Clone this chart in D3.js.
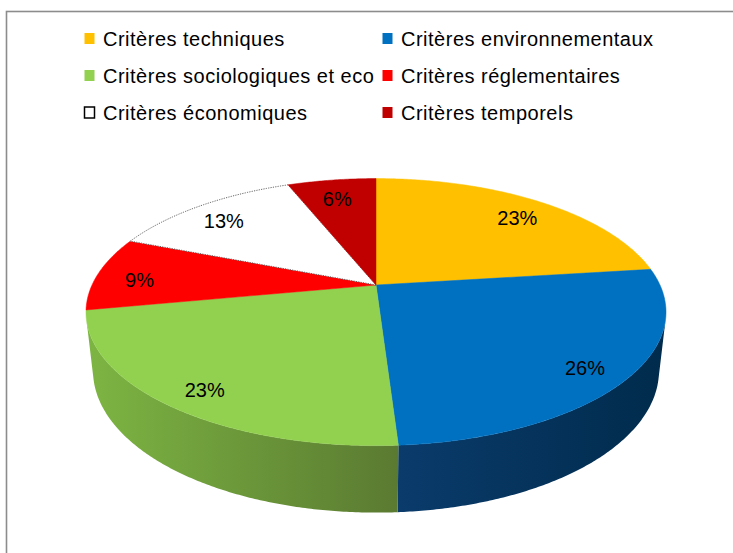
<!DOCTYPE html>
<html><head><meta charset="utf-8">
<script src="https://cdn.jsdelivr.net/npm/d3@7"></script>
<style>
html,body{margin:0;padding:0;background:#fff;}
svg{display:block;font-family:"Liberation Sans",Arial,sans-serif;}
</style></head>
<body>
<svg id="chart" width="733" height="553"></svg>
<script>
// ---- data ----
const categories = ["Critères techniques","Critères environnementaux","Critères sociologiques et eco","Critères réglementaires","Critères économiques","Critères temporels"];
const values = [23, 26, 23, 9, 13, 6];
const labels = ["23%","26%","23%","9%","13%","6%"];
// ---- styles ----
const topColors = ["#ffc000","#0070c0","#92d050","#ff0000","#ffffff","#c00000"];
const sideColors = [["#d9a300","#b38600"],["#0a3b6b","#002b4c"],["#7db543","#5a7a31"],["#d90000","#b00000"],["#e0e0e0","#c0c0c0"],["#a30000","#850000"]];

const svg = d3.select("#chart");
const W = 733, H = 553;

// chart area border
svg.append("rect").attr("x",6.5).attr("y",11.5).attr("width",W).attr("height",H)
  .attr("fill","#fff").attr("stroke","#8c8c8c").attr("stroke-width",1.6);

// ---- 3D perspective projection ----
const cx = 376, cy = 285;
const alpha = 26.8*Math.PI/180, sa = Math.sin(alpha), ca = Math.cos(alpha);
const Dist = 4.40, focal = 1249.5, depthH = 0.232;
function proj(theta, r, z){
  const X = r*Math.sin(theta), Y = r*Math.cos(theta);
  const depth = Y*ca + Dist - z*sa;
  const v = Y*sa + z*ca;
  return [cx + focal*X/depth, cy - focal*v/depth];
}
const pie = d3.pie().sort(null).value(d=>d).startAngle(0).endAngle(2*Math.PI);
const arcs = pie(values);
const line = d3.line();
function arcPts(a0,a1,r,z){
  const n = Math.max(2, Math.ceil((a1-a0)/(Math.PI/360)));
  return d3.range(n+1).map(i=>proj(a0+(a1-a0)*i/n, r, z));
}

const defs = svg.append("defs");
// visible side range
const tMin = Math.acos(-1/(Dist*ca)), tMax = 2*Math.PI - tMin;
const gSide = svg.append("g");
arcs.forEach((a,i)=>{
  const s0 = Math.max(a.startAngle,tMin), s1 = Math.min(a.endAngle,tMax);
  if (s0>=s1) return;
  const top = arcPts(s0,s1,1,0), bot = arcPts(s0,s1,1,-depthH).reverse();
  const xs = top.map(p=>p[0]);
  const gid = "side"+i;
  const lg = defs.append("linearGradient").attr("id",gid).attr("gradientUnits","userSpaceOnUse")
    .attr("x1",d3.min(xs)).attr("x2",d3.max(xs)).attr("y1",0).attr("y2",0);
  const pLeft = proj(s1,1,0)[0] < proj(s0,1,0)[0];
  lg.append("stop").attr("offset",0).attr("stop-color", pLeft ? sideColors[i][0] : sideColors[i][0]);
  lg.append("stop").attr("offset",1).attr("stop-color", sideColors[i][1]);
  gSide.append("path").attr("d", line(top.concat(bot))+"Z").attr("fill","url(#"+gid+")");
});

// top face
const gTop = svg.append("g");
arcs.forEach((a,i)=>{
  const pts = [proj(0,0,0)].concat(arcPts(a.startAngle,a.endAngle,1,0));
  const p = gTop.append("path").attr("d", line(pts)+"Z").attr("fill",topColors[i]);
  if (topColors[i]==="#ffffff") p.attr("stroke","#555").attr("stroke-width",0.9).attr("stroke-dasharray","1.2,1.2");
  else p.attr("stroke",topColors[i]).attr("stroke-width",0.5);
});

// labels
const labelR = 0.85;
svg.append("g").selectAll("text").data(arcs).join("text")
  .attr("x", d=>proj((d.startAngle+d.endAngle)/2,labelR,0)[0])
  .attr("y", d=>proj((d.startAngle+d.endAngle)/2,labelR,0)[1]+5)
  .attr("text-anchor","middle").attr("dominant-baseline","central")
  .attr("font-size",20).attr("fill","#000")
  .text((d,i)=>labels[i]);

// legend
const colX = d3.scalePoint().domain([0,1]).range([84,382]);
const rowY = d3.scalePoint().domain([0,1,2]).range([38.5,112.5]);
const lg = svg.append("g").selectAll("g").data(categories).join("g")
  .attr("transform",(d,i)=>`translate(${colX(i%2)},${rowY(Math.floor(i/2))})`);
lg.append("rect").attr("x",0.5).attr("y",-5.5).attr("width",10).attr("height",11)
  .attr("fill",(d,i)=>topColors[i])
  .attr("stroke",(d,i)=>topColors[i]==="#ffffff"?"#000":"none").attr("stroke-width",1.5);
lg.append("text").attr("x",19).attr("y",7.5).attr("font-size",20).attr("letter-spacing",0.5)
  .attr("fill","#000").text(d=>d);
</script>
</body></html>
